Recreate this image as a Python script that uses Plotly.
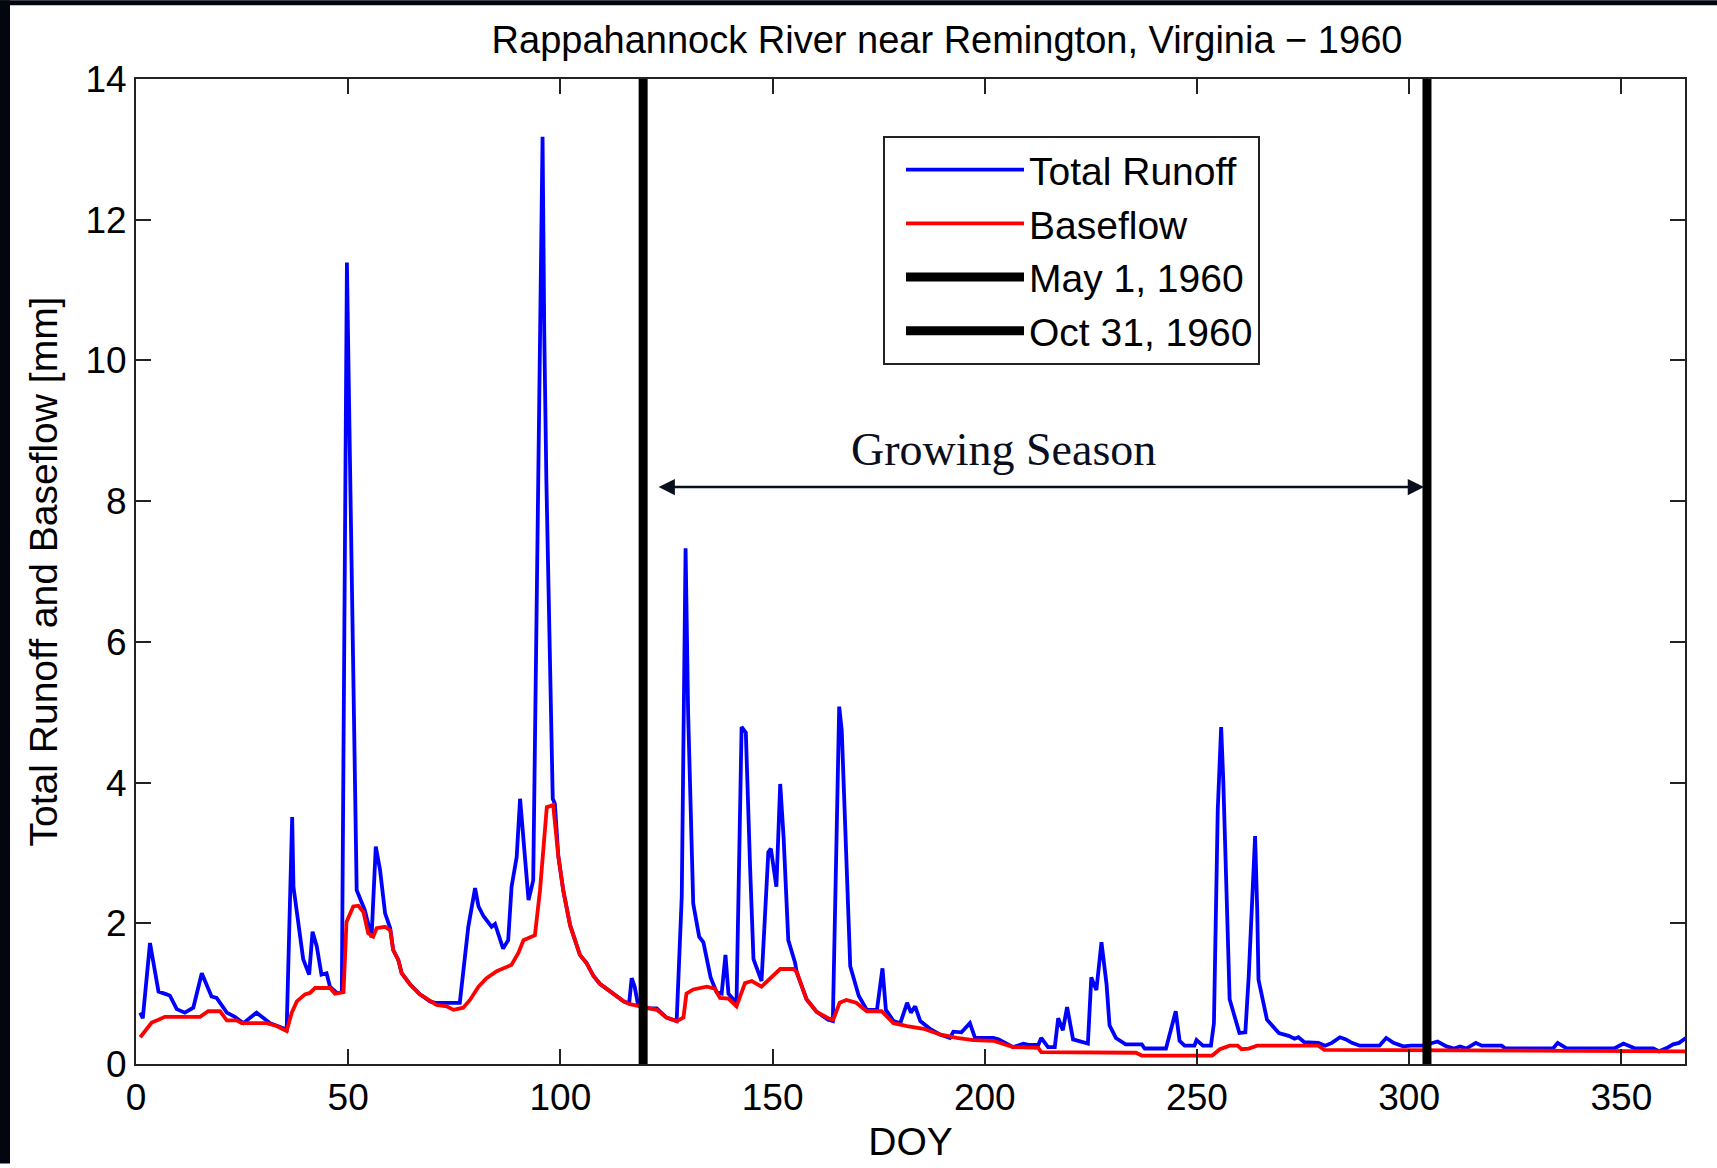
import plotly.graph_objects as go

# ---------------- data ----------------
runoff_doy = [1, 1.6, 3.3, 5.3, 7.2, 8.0, 9.6, 11.5, 13.5, 15.5, 17.8, 19.0, 21.4, 23.3, 25.3, 28.4,
              31.6, 33.1, 35.5, 36.8, 37.1, 39.4, 40.8, 41.6, 42.6, 43.7, 44.9, 45.7, 47.3, 48.5,
              49.7, 50.1, 52.0, 53.9, 55.5, 56.5, 57.5, 58.7, 59.9, 60.6, 61.8, 62.6, 64.6, 66.9,
              69.3, 70.5, 76.3, 78.3, 79.9, 80.7, 81.9, 83.8, 84.6, 86.5, 87.7, 88.5, 89.7, 90.5,
              92.5, 93.6, 95.4, 95.8, 96.2, 96.7, 98.2, 98.7, 99.5, 100.7, 102.3, 104.6, 106.2,
              107.8, 109.3, 111.7, 113.7, 114.9, 116.2, 116.8, 117.5, 118.3, 120.3, 122.7, 125.0,
              127.4, 128.6, 129.5, 130.1, 130.7, 131.3, 132.7, 133.7, 135.4, 136.8, 138.0, 138.9,
              139.6, 141.5, 142.7, 143.7, 144.7, 145.5, 147.4, 149.0, 149.6, 150.9, 151.8, 152.6,
              153.7, 155.3, 155.7, 158.0, 160.4, 163.1, 164.2, 165.7, 166.3, 168.3, 170.3, 172.2,
              174.6, 175.9, 176.7, 178.5, 180.1, 181.7, 182.6, 183.6, 184.8, 187.1, 189.4, 191.8,
              192.6, 194.5, 196.5, 197.7, 202.0, 203.2, 206.7, 209.1, 210.6, 212.6, 213.3, 214.9,
              216.5, 217.3, 218.4, 219.4, 220.8, 224.3, 225.1, 226.3, 227.5, 228.7, 229.4, 230.9,
              233.2, 237.0, 237.7, 242.7, 245.0, 245.9, 247.1, 249.4, 249.9, 251.4, 253.3, 254.0,
              254.9, 255.7, 256.2, 256.8, 257.7, 260.0, 261.4, 262.2, 263.7, 264.2, 264.5, 266.5,
              267.9, 269.3, 271.6, 273.0, 273.9, 275.3, 278.6, 280.2, 281.8, 283.7, 285.1, 286.5,
              288.4, 293.0, 294.6, 296.3, 298.6, 300.4, 303.2, 306.7, 308.8, 310.6, 312.0, 313.5,
              315.7, 317.1, 321.8, 322.7, 333.9, 335.0, 337.2, 348.3, 350.5, 353.3, 357.5, 358.9,
              360.8, 362.2, 363.6, 365.2]
runoff_mm = [0.73, 0.65, 1.72, 1.03, 0.99, 0.97, 0.78, 0.73, 0.80, 1.29, 0.96, 0.94, 0.73, 0.67, 0.58, 0.73,
             0.58, 0.54, 0.49, 3.51, 2.52, 1.49, 1.27, 1.88, 1.67, 1.27, 1.29, 1.10, 1.01, 1.03,
             11.39, 9.8, 2.47, 2.19, 1.80, 3.09, 2.76, 2.14, 1.93, 1.62, 1.48, 1.29, 1.13, 0.99,
             0.89, 0.87, 0.87, 1.95, 2.50, 2.24, 2.10, 1.95, 1.99, 1.64, 1.76, 2.52, 2.94, 3.77,
             2.33, 2.61, 11.4, 13.18, 10.4, 8.29, 3.77, 3.70, 2.96, 2.46, 1.97, 1.55, 1.43,
             1.25, 1.14, 1.03, 0.94, 0.89, 0.86, 1.22, 1.10, 0.84, 0.79, 0.79, 0.66,
             0.61, 2.38, 7.33, 5.0, 3.33, 2.28, 1.81, 1.73, 1.23, 1.02, 1.00, 1.55,
             1.00, 0.87, 4.79, 4.71, 2.80, 1.49, 1.18, 3.01, 3.06, 2.52, 3.98, 3.22,
             1.76, 1.44, 1.30, 0.92, 0.74, 0.63, 0.61, 5.08, 4.74, 1.39, 0.97, 0.77,
             0.77, 1.36, 0.77, 0.61, 0.58, 0.87, 0.73, 0.82, 0.61, 0.50, 0.42, 0.37,
             0.46, 0.45, 0.58, 0.37, 0.37, 0.35, 0.24, 0.29, 0.27, 0.27, 0.37, 0.24,
             0.24, 0.65, 0.48, 0.81, 0.35, 0.29, 1.23, 1.05, 1.73, 1.13, 0.55, 0.37,
             0.28, 0.28, 0.22, 0.22, 0.75, 0.33, 0.26, 0.26, 0.34, 0.26, 0.26, 0.58,
             3.61, 4.79, 4.03, 2.66, 0.92, 0.44, 0.45, 1.25, 3.24, 2.19, 1.20, 0.63,
             0.54, 0.44, 0.40, 0.36, 0.38, 0.31, 0.30, 0.26, 0.30, 0.38, 0.35, 0.30,
             0.26, 0.26, 0.37, 0.30, 0.25, 0.26, 0.26, 0.32, 0.25, 0.22, 0.25, 0.22,
             0.30, 0.26, 0.26, 0.22, 0.22, 0.30, 0.22, 0.22, 0.29, 0.22, 0.22, 0.18,
             0.23, 0.28, 0.30, 0.37]

baseflow_doy = [1, 2.5, 3.7, 5.3, 6.8, 15.1, 17.0, 19.8, 21.4, 23.7, 24.9, 30.8, 33.1, 35.5, 36.7,
                37.9, 39.8, 41.0, 42.2, 45.7, 46.9, 48.9, 49.6, 51.2, 52.4, 53.6, 54.7, 55.9, 56.7,
                58.7, 59.9, 60.6, 61.8, 62.6, 64.6, 66.9, 69.3, 70.8, 73.2, 74.8, 77.1, 78.7, 80.7,
                82.6, 85.0, 87.3, 88.5, 90.1, 91.3, 94.0, 95.2, 96.8, 98.3, 99.5, 100.7, 102.3,
                104.6, 106.2, 107.8, 109.3, 111.7, 113.7, 114.9, 116.4, 118.8, 120.3, 122.7, 125.0,
                127.4, 129.0, 129.7, 131.3, 134.5, 136.4, 137.6, 139.6, 141.5, 143.5, 145.1, 147.4,
                149.8, 151.8, 154.9, 155.7, 158.0, 160.4, 163.1, 164.3, 165.8, 167.4, 169.7, 172.2,
                175.7, 178.5, 181.7, 185.6, 189.4, 193.4, 197.3, 202.0, 206.7, 212.6, 213.3, 235.6,
                237.0, 253.6, 255.4, 257.7, 259.6, 260.5, 262.2, 264.2, 278.6, 280.0, 365.2]
baseflow_mm = [0.38, 0.49, 0.59, 0.63, 0.67, 0.67, 0.75, 0.75, 0.62, 0.62, 0.58, 0.58, 0.54, 0.47, 0.73,
               0.89, 0.99, 1.01, 1.08, 1.08, 1.00, 1.02, 2.02, 2.24, 2.25, 2.16, 1.86, 1.81, 1.93,
               1.95, 1.90, 1.62, 1.48, 1.29, 1.13, 0.99, 0.89, 0.84, 0.82, 0.77, 0.80, 0.91, 1.10,
               1.22, 1.32, 1.37, 1.41, 1.58, 1.76, 1.83, 2.47, 3.65, 3.68, 2.96, 2.46, 1.97,
               1.55, 1.43, 1.25, 1.14, 1.03, 0.94, 0.89, 0.85, 0.82, 0.79, 0.77, 0.66,
               0.61, 0.66, 1.00, 1.06, 1.10, 1.07, 0.94, 0.93, 0.82, 1.15, 1.18, 1.10,
               1.23, 1.35, 1.35, 1.31, 0.92, 0.74, 0.65, 0.63, 0.87, 0.91, 0.87, 0.75,
               0.75, 0.58, 0.54, 0.50, 0.42, 0.37, 0.34, 0.33, 0.24, 0.23, 0.17, 0.16,
               0.12, 0.12, 0.21, 0.26, 0.26, 0.21, 0.22, 0.26, 0.26, 0.20, 0.18]

may1_doy = 119.5
oct31_doy = 304.2
y_span = [0, 14]
season_start, season_end, season_level = 122.8, 303.5, 8.2

x_ticks = [0, 50, 100, 150, 200, 250, 300, 350]
y_ticks = [0, 2, 4, 6, 8, 10, 12, 14]

# ---------------- figure ----------------
FONT = "Liberation Sans, Arial, sans-serif"
FS = 37

fig = go.Figure()
fig.add_trace(go.Scatter(x=runoff_doy, y=runoff_mm, mode="lines", name="Total Runoff",
                         line=dict(color="#0000ff", width=3.8), legendgroup="a"))
fig.add_trace(go.Scatter(x=baseflow_doy, y=baseflow_mm, mode="lines", name="Baseflow",
                         line=dict(color="#ff0000", width=3.8), legendgroup="b"))
fig.add_trace(go.Scatter(x=[may1_doy, may1_doy], y=y_span, mode="lines", name="May 1, 1960",
                         line=dict(color="black", width=9), legendgroup="c"))
fig.add_trace(go.Scatter(x=[oct31_doy, oct31_doy], y=y_span, mode="lines", name="Oct 31, 1960",
                         line=dict(color="black", width=9), legendgroup="d"))

L, R, T, B = 136, 32, 79, 100
W, H = 1717, 1168
pw, ph = W - L - R, H - T - B

def px(xp):
    return (xp - L) / pw

def py(yp):
    return (H - B - yp) / ph

axis_common = dict(showline=True, linecolor="#222222", linewidth=2, mirror="ticks",
                   ticks="inside", ticklen=15, tickwidth=2, tickcolor="#222222",
                   showgrid=False, zeroline=False,
                   tickfont=dict(family=FONT, size=FS, color="black"))

fig.update_layout(
    width=W, height=H,
    margin=dict(l=L, r=R, t=T, b=B),
    paper_bgcolor="white", plot_bgcolor="white",
    font=dict(family=FONT, size=FS, color="black"),
    title=dict(text="Rappahannock River near Remington, Virginia \u2212 1960",
               x=947 / W, xanchor="center", y=1 - 40 / H, yanchor="middle",
               font=dict(family=FONT, size=38, color="black")),
    xaxis=dict(range=[0, 365], tickvals=x_ticks,
               title=dict(text="DOY", standoff=10, font=dict(family=FONT, size=39)),
               **axis_common),
    yaxis=dict(range=[0, 14], tickvals=y_ticks,
               title=dict(text="Total Runoff and Baseflow [mm]", standoff=16,
                          font=dict(family=FONT, size=39)),
               **axis_common),
    legend=dict(x=px(883), y=py(136), xanchor="left", yanchor="top",
                bgcolor="white", bordercolor="#222222", borderwidth=2,
                font=dict(family=FONT, size=39, color="black"),
                itemwidth=118, tracegroupgap=0, indentation=16),
    showlegend=True,
)

# growing season arrow and label
fig.add_annotation(x=season_end, y=season_level, ax=season_start, ay=season_level,
                   xref="x", yref="y", axref="x", ayref="y", text="",
                   showarrow=True, arrowhead=2, arrowside="end+start", arrowsize=1.3,
                   arrowwidth=2.5, arrowcolor="#0a0f1e", standoff=0, startstandoff=0)
fig.add_annotation(x=204.5, y=8.73, xref="x", yref="y", text="Growing Season",
                   showarrow=False, font=dict(family="Liberation Serif, serif", size=46,
                                              color="#0a0f1e"))

# dark frame strips on left and top edges of the picture
fig.add_shape(type="rect", xref="paper", yref="paper", x0=px(0), x1=px(10), y0=py(H), y1=py(0),
              fillcolor="#03050f", line=dict(width=0), layer="above")
fig.add_shape(type="rect", xref="paper", yref="paper", x0=px(0), x1=px(W), y0=py(5), y1=py(0),
              fillcolor="#03050f", line=dict(width=0), layer="above")

fig.write_html("out.html")
